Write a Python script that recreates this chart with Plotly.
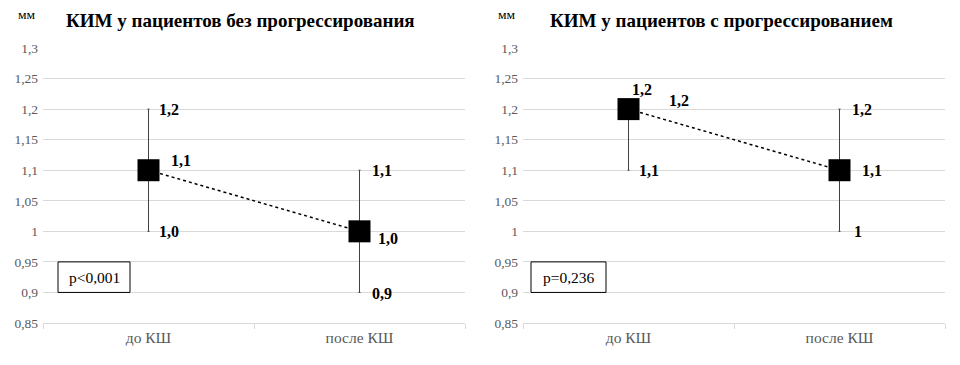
import plotly.graph_objects as go

categories = ["до КШ", "после КШ"]
titles = ["КИМ у пациентов без прогрессирования", "КИМ у пациентов с прогрессированием"]
p_values = ["p<0,001", "p=0,236"]

# panel 1: without progression
mean_1 = [1.1, 1.0]
lower_1 = [1.0, 0.9]
upper_1 = [1.2, 1.1]
# panel 2: with progression
mean_2 = [1.2, 1.1]
lower_2 = [1.1, 1.0]
upper_2 = [1.2, 1.2]

mean_lbl_1 = ["1,1", "1,0"]
lower_lbl_1 = ["1,0", "0,9"]
upper_lbl_1 = ["1,2", "1,1"]
mean_lbl_2 = ["1,2", "1,1"]
lower_lbl_2 = ["1,1", "1"]
upper_lbl_2 = ["1,2", "1,2"]

y_tickvals = [0.85, 0.9, 0.95, 1.0, 1.05, 1.1, 1.15, 1.2, 1.25, 1.3]
y_ticktext = ["0,85", "0,9", "0,95", "1", "1,05", "1,1", "1,15", "1,2", "1,25", "1,3"]

SERIF = "Liberation Serif"
W, H = 960, 365

fig = go.Figure()

panels = [
    (mean_1, lower_1, upper_1, mean_lbl_1, lower_lbl_1, upper_lbl_1),
    (mean_2, lower_2, upper_2, mean_lbl_2, lower_lbl_2, upper_lbl_2),
]
x_domains = [[43 / W, 465 / W], [523 / W, 945 / W]]
y_domain = [(H - 323) / H, (H - 48) / H]

for i, (m, lo, up, ml, ll, ul) in enumerate(panels):
    xa = "x" if i == 0 else "x2"
    ya = "y" if i == 0 else "y2"
    fig.add_trace(go.Scatter(
        x=categories, y=m, xaxis=xa, yaxis=ya,
        mode="lines+markers",
        line=dict(color="black", width=1.5, dash="dot"),
        marker=dict(symbol="square", size=22, color="black"),
        error_y=dict(type="data", symmetric=False,
                     array=[u - v for u, v in zip(up, m)],
                     arrayminus=[v - l for v, l in zip(m, lo)],
                     color="#404040", thickness=1, width=1),
        showlegend=False, hoverinfo="skip",
    ))
    ax_sfx = "" if i == 0 else "2"
    fig.update_layout(**{
        "xaxis" + ax_sfx: dict(domain=x_domains[i], type="category", range=[-0.5, 1.5],
                               anchor=ya, showline=True, linecolor="#d9d9d9", linewidth=1,
                               ticks="outside", tickson="boundaries", ticklen=5, tickcolor="#d9d9d9",
                               showgrid=False, zeroline=False, automargin=False,
                               tickfont=dict(family=SERIF, size=15.5, color="#595959")),
        "yaxis" + ax_sfx: dict(domain=y_domain, range=[0.85, 1.3], anchor=xa,
                               tickvals=y_tickvals, ticktext=y_ticktext,
                               showgrid=True, gridcolor="#d9d9d9", gridwidth=1,
                               showline=False, zeroline=False, ticks="", ticklabelstandoff=4,
                               automargin=False,
                               tickfont=dict(family=SERIF, size=13.5, color="#595959")),
    })

lbl_font = dict(family=SERIF, size=16, color="black")

def lab(xa, ya, x, y, text, xs, ys):
    fig.add_annotation(x=x, y=y, xref=xa, yref=ya, text="<b>" + text + "</b>",
                       showarrow=False, xanchor="left", yanchor="middle",
                       xshift=xs, yshift=ys, font=lbl_font)

# panel 1 labels
lab("x", "y", categories[0], upper_1[0], upper_lbl_1[0], 8, 0)
lab("x", "y", categories[0], mean_1[0], mean_lbl_1[0], 20, 10)
lab("x", "y", categories[0], lower_1[0], lower_lbl_1[0], 8, 0)
lab("x", "y", categories[1], upper_1[1], upper_lbl_1[1], 10, 0)
lab("x", "y", categories[1], mean_1[1], mean_lbl_1[1], 16, -7)
lab("x", "y", categories[1], lower_1[1], lower_lbl_1[1], 10, -1)
# panel 2 labels
lab("x2", "y2", categories[0], mean_2[0], mean_lbl_2[0], 1, 20)
lab("x2", "y2", categories[0], upper_2[0], upper_lbl_2[0], 38, 9)
lab("x2", "y2", categories[0], lower_2[0], lower_lbl_2[0], 8, 0)
lab("x2", "y2", categories[1], upper_2[1], upper_lbl_2[1], 10, 0)
lab("x2", "y2", categories[1], mean_2[1], mean_lbl_2[1], 20, 0)
lab("x2", "y2", categories[1], lower_2[1], lower_lbl_2[1], 12, 0)

# titles and unit
title_x = [240 / W, 721 / W]
for i in range(2):
    fig.add_annotation(x=title_x[i], y=1 - 20 / H, xref="paper", yref="paper",
                       text="<b>" + titles[i] + "</b>", showarrow=False,
                       xanchor="center", yanchor="middle",
                       font=dict(family=SERIF, size=19, color="black"))
    fig.add_annotation(x=(27 + 480 * i) / W, y=1 - 15 / H, xref="paper", yref="paper",
                       text="мм", showarrow=False, xanchor="center", yanchor="middle",
                       font=dict(family=SERIF, size=13.5, color="black"))

# p-value boxes
box_x = [(58, 130), (531, 606)]
for i in range(2):
    x0, x1 = box_x[i]
    fig.add_shape(type="rect", xref="paper", yref="y" if i == 0 else "y2",
                  x0=x0 / W, x1=x1 / W, y0=0.9, y1=0.95,
                  line=dict(color="black", width=1), fillcolor="white", layer="above")
    fig.add_annotation(x=(x0 + x1) / 2 / W, y=0.925, xref="paper", yref="y" if i == 0 else "y2",
                       text=p_values[i], showarrow=False, xanchor="center", yanchor="middle",
                       font=dict(family=SERIF, size=15.5, color="black"))

fig.update_layout(width=W, height=H, margin=dict(l=0, r=0, t=0, b=0),
                  plot_bgcolor="white", paper_bgcolor="white")

fig.write_html("out.html", config={"displayModeBar": False},
               post_script="document.body.style.margin='0';")
